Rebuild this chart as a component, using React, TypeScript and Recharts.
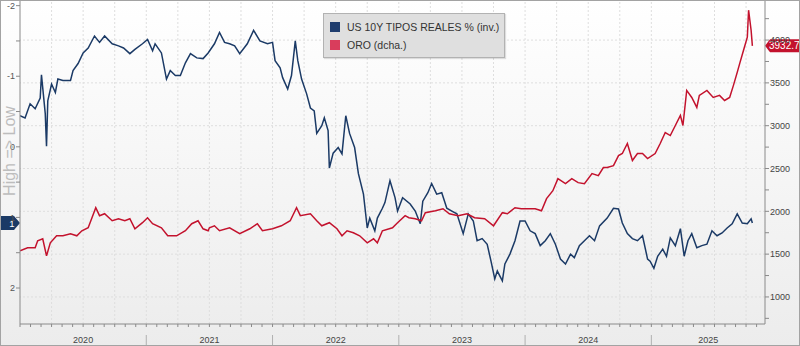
import React from 'react'
import { LineChart, Line, XAxis, YAxis, ReferenceLine, Legend } from 'recharts'

// US 10Y real yield (left axis, inverted) — dates as decimal years
const realYieldDates = [
  2020.0, 2020.04, 2020.08, 2020.12, 2020.16, 2020.17, 2020.2, 2020.21, 2020.22, 2020.25,
  2020.28, 2020.3, 2020.34, 2020.4, 2020.42, 2020.46, 2020.5, 2020.54, 2020.59, 2020.63,
  2020.67, 2020.73, 2020.78, 2020.82, 2020.87, 2020.91, 2020.97, 2021.01, 2021.05, 2021.07,
  2021.12, 2021.16, 2021.19, 2021.23, 2021.27, 2021.31, 2021.35, 2021.4, 2021.45, 2021.49,
  2021.54, 2021.58, 2021.62, 2021.66, 2021.7, 2021.74, 2021.8, 2021.85, 2021.9, 2021.96,
  2022.0, 2022.02, 2022.06, 2022.08, 2022.12, 2022.15, 2022.18, 2022.2, 2022.23, 2022.27,
  2022.3, 2022.33, 2022.35, 2022.39, 2022.41, 2022.44, 2022.45, 2022.48, 2022.52, 2022.55,
  2022.58, 2022.61, 2022.65, 2022.68, 2022.72, 2022.75, 2022.77, 2022.81, 2022.83, 2022.87,
  2022.89, 2022.93, 2022.97, 2022.99, 2023.03, 2023.09, 2023.13, 2023.17, 2023.19, 2023.23,
  2023.26, 2023.3, 2023.34, 2023.38, 2023.42, 2023.46, 2023.51, 2023.55, 2023.59, 2023.62,
  2023.66, 2023.7, 2023.73, 2023.76, 2023.78, 2023.82, 2023.84, 2023.88, 2023.92, 2023.96,
  2024.0, 2024.04, 2024.08, 2024.12, 2024.16, 2024.2, 2024.24, 2024.28, 2024.32, 2024.36,
  2024.39, 2024.43, 2024.47, 2024.51, 2024.55, 2024.59, 2024.65, 2024.7, 2024.74, 2024.77,
  2024.81, 2024.85, 2024.89, 2024.93, 2024.97, 2024.99, 2025.02, 2025.05, 2025.09, 2025.12,
  2025.15, 2025.19, 2025.23, 2025.26, 2025.29, 2025.32, 2025.36, 2025.4, 2025.44, 2025.48,
  2025.52, 2025.56, 2025.6, 2025.64, 2025.68, 2025.72, 2025.76, 2025.79, 2025.8,
]
const realYieldValues = [
  -0.44, -0.41, -0.61, -0.54, -0.69, -1.02, -0.47, -0.01, -0.65, -0.89,
  -0.77, -0.96, -0.94, -0.94, -1.08, -1.18, -1.33, -1.4, -1.57, -1.48,
  -1.57, -1.46, -1.43, -1.4, -1.32, -1.38, -1.46, -1.52, -1.36, -1.46,
  -1.33, -0.96, -1.08, -1.01, -1.01, -1.19, -1.32, -1.26, -1.25, -1.33,
  -1.46, -1.62, -1.48, -1.46, -1.43, -1.32, -1.46, -1.65, -1.5, -1.46,
  -1.48, -1.22, -1.12, -0.98, -0.82, -1.01, -1.5, -1.22, -0.96, -0.75,
  -0.55, -0.51, -0.19, -0.3, -0.41, -0.23, 0.3, 0.09, 0.01, 0.1,
  -0.44, -0.19, 0.01, 0.38, 0.67, 1.15, 1.01, 1.19, 1.01, 0.87,
  0.79, 0.48, 0.72, 0.91, 0.72, 0.81, 0.91, 1.09, 0.77, 0.65,
  0.52, 0.67, 0.65, 0.87, 0.91, 0.95, 1.23, 0.95, 1.05, 1.33,
  1.3, 1.38, 1.62, 1.87, 1.76, 1.9, 1.66, 1.52, 1.33, 1.05,
  1.05, 1.19, 1.23, 1.4, 1.33, 1.23, 1.38, 1.59, 1.66, 1.52,
  1.57, 1.4, 1.33, 1.26, 1.33, 1.12, 1.01, 0.87, 0.88, 1.08,
  1.23, 1.3, 1.33, 1.26, 1.59, 1.62, 1.72, 1.55, 1.45, 1.55,
  1.29, 1.4, 1.16, 1.55, 1.33, 1.23, 1.43, 1.4, 1.38, 1.19,
  1.26, 1.22, 1.15, 1.09, 0.95, 1.08, 1.09, 1.02, 1.08,
]

// Gold (right axis)
const goldDates = [
  2020.0, 2020.06, 2020.12, 2020.14, 2020.18, 2020.21, 2020.24, 2020.29, 2020.34, 2020.4,
  2020.45, 2020.49, 2020.54, 2020.57, 2020.6, 2020.63, 2020.67, 2020.73, 2020.78, 2020.83,
  2020.87, 2020.91, 2020.97, 2021.01, 2021.05, 2021.12, 2021.17, 2021.24, 2021.31, 2021.36,
  2021.41, 2021.45, 2021.49, 2021.5, 2021.54, 2021.58, 2021.66, 2021.74, 2021.82, 2021.88,
  2021.92, 2022.0, 2022.07, 2022.14, 2022.19, 2022.22, 2022.3, 2022.35, 2022.39, 2022.45,
  2022.51, 2022.55, 2022.59, 2022.64, 2022.69, 2022.75, 2022.8, 2022.83, 2022.87, 2022.95,
  2022.99, 2023.05, 2023.08, 2023.13, 2023.18, 2023.21, 2023.29, 2023.35, 2023.4, 2023.47,
  2023.54, 2023.6, 2023.68, 2023.75, 2023.82, 2023.86, 2023.92, 2023.97, 2024.02, 2024.08,
  2024.13, 2024.17, 2024.22, 2024.26, 2024.32, 2024.37, 2024.42, 2024.47, 2024.53, 2024.58,
  2024.62, 2024.65, 2024.7, 2024.74, 2024.77, 2024.81, 2024.85, 2024.89, 2024.93, 2024.97,
  2025.03, 2025.07, 2025.11, 2025.15, 2025.19, 2025.23, 2025.25, 2025.28, 2025.32, 2025.36,
  2025.38, 2025.44, 2025.49, 2025.54, 2025.58, 2025.62, 2025.65, 2025.68, 2025.7, 2025.73,
  2025.76, 2025.77, 2025.79, 2025.8,
]
const goldValues = [
  1539, 1574, 1574, 1656, 1679, 1480, 1632, 1714, 1714, 1738,
  1714, 1773, 1808, 1925, 2042, 1949, 1972, 1890, 1913, 1890,
  1913, 1796, 1867, 1925, 1855, 1808, 1714, 1714, 1773, 1855,
  1890, 1796, 1773, 1808, 1831, 1773, 1808, 1738, 1796, 1855,
  1773, 1796, 1831, 1890, 2042, 1949, 1972, 1890, 1831, 1867,
  1796, 1714, 1773, 1749, 1714, 1632, 1679, 1632, 1773, 1808,
  1867, 1949, 1925, 1913, 1890, 1984, 2007, 2030, 1972, 1949,
  1972, 1925, 1913, 1831, 1984, 1972, 2042, 2030, 2030, 2030,
  2007, 2148, 2241, 2382, 2323, 2382, 2335, 2323, 2440, 2417,
  2511, 2511, 2534, 2651, 2675, 2792, 2593, 2675, 2675, 2616,
  2675, 2792, 2920, 2885, 3002, 3120, 3002, 3412, 3330, 3213,
  3354, 3412, 3330, 3354, 3295, 3330, 3471, 3623, 3728, 3881,
  4033, 4349, 4115, 3932.72,
]

const leftTicks = [-2, -1.5, -1, -0.5, 0, 0.5, 1, 1.5, 2]
const rightTicks = [750, 1000, 1250, 1500, 1750, 2000, 2250, 2500, 2750, 3000, 3250, 3500, 3750, 4000, 4250]
const rightGrid = [1000, 1500, 2000, 2500, 3000, 3500, 4000]
const yearLabels = ['2020', '2021', '2022', '2023', '2024', '2025']
const yearLabelPos = [2020.5, 2021.5, 2022.5, 2023.5, 2024.5, 2025.45]

const BLUE = '#1b3a66'
const RED = '#c3122d'
const X_DOMAIN = [2020, 2025.9]

const realYieldData = realYieldDates.map((t, i) => ({ t, rate: realYieldValues[i] }))
const goldData = goldDates.map((t, i) => ({ t, gold: goldValues[i] }))

const monthTicks: number[] = []
for (let i = 0; 2020 + i / 12 <= X_DOMAIN[1]; i++) {
  const v = 2020 + i / 12
  if (!yearLabelPos.some((p) => Math.abs(p - v) < 1e-6)) monthTicks.push(v)
}
const xTicks = [...monthTicks, ...yearLabelPos].sort((a, b) => a - b)

const quarterLines: number[] = []
for (let v = 2020.25; v < X_DOMAIN[1]; v += 0.25) quarterLines.push(v)

const lastRate = realYieldValues[realYieldValues.length - 1]
const lastGold = goldValues[goldValues.length - 1]

function XTick(props: any) {
  const { x, y, payload } = props
  const v = payload.value
  const labelIdx = yearLabelPos.findIndex((p) => Math.abs(p - v) < 1e-6)
  const m = (v - 2020) * 12
  const onMonth = Math.abs(m - Math.round(m)) < 1e-6
  const yearStart = onMonth && Math.round(m) % 12 === 0 && v > 2020.01
  return (
    <g>
      {onMonth && <line x1={x} x2={x} y1={y} y2={y + 3} stroke="#8a8a8a" />}
      {yearStart && <line x1={x} x2={x} y1={y + 11} y2={y + 22} stroke="#b0b0b0" />}
      {labelIdx >= 0 && (
        <text x={x} y={y + 19} textAnchor="middle" fontSize={9} fill="#444">
          {yearLabels[labelIdx]}
        </text>
      )}
    </g>
  )
}

function RightFlag({ viewBox }: any) {
  const x = viewBox.x + viewBox.width
  const y = viewBox.y
  return (
    <g>
      <path d={`M${x} ${y} L${x + 5} ${y - 6.5} H${x + 40} V${y + 6.5} H${x + 5} Z`} fill={RED} />
      <text x={x + 4} y={y + 3.5} fontSize={10} fill="#fff">
        {lastGold.toFixed(2)}
      </text>
    </g>
  )
}

function LeftFlag({ viewBox }: any) {
  const x = viewBox.x
  const y = viewBox.y
  return (
    <g>
      <path d={`M0 ${y - 7} H${x - 6} L${x} ${y} L${x - 6} ${y + 7} H0 Z`} fill={BLUE} />
      <text x={12} y={y + 3.5} fontSize={9.5} fill="#fff" textAnchor="middle">
        {Math.trunc(lastRate)}
      </text>
    </g>
  )
}

function LegendBox() {
  const items = [
    { name: 'US 10Y TIPOS REALES % (inv.)', color: '#1f3d6e' },
    { name: 'ORO (dcha.)', color: '#d93d5c' },
  ]
  return (
    <div style={styles.legend}>
      {items.map((it) => (
        <div key={it.name} style={styles.legendRow}>
          <span style={{ ...styles.legendSwatch, background: it.color }} />
          <span>{it.name}</span>
        </div>
      ))}
    </div>
  )
}

export default function App() {
  return (
    <div style={styles.container}>
      <LineChart width={800} height={346} margin={{ top: 0, right: 0, bottom: 0, left: 0 }}>
        <XAxis
          type="number"
          dataKey="t"
          domain={X_DOMAIN}
          allowDataOverflow
          ticks={xTicks}
          interval={0}
          tick={<XTick />}
          tickLine={false}
          tickSize={0}
          tickMargin={0}
          height={22}
          axisLine={{ stroke: '#8a8a8a' }}
        />
        <YAxis
          yAxisId="left"
          orientation="left"
          width={20}
          reversed
          type="number"
          domain={[-2.08, 2.51]}
          allowDataOverflow
          ticks={leftTicks}
          interval={0}
          tickSize={4}
          tickMargin={1}
          tickFormatter={(v: number) => (Number.isInteger(v) ? String(v) : '')}
          tick={{ fontSize: 9, fill: '#555' }}
          axisLine={{ stroke: '#8a8a8a' }}
          tickLine={{ stroke: '#8a8a8a' }}
        />
        <YAxis
          yAxisId="right"
          orientation="right"
          width={35}
          type="number"
          domain={[684, 4468]}
          allowDataOverflow
          ticks={rightTicks}
          interval={0}
          tickSize={4}
          tickMargin={1}
          tickFormatter={(v: number) => (v % 500 === 0 ? String(v) : '')}
          tick={{ fontSize: 9, fill: '#444' }}
          axisLine={{ stroke: '#8a8a8a' }}
          tickLine={{ stroke: '#8a8a8a' }}
        />

        {quarterLines.map((v) => (
          <ReferenceLine key={'q' + v} x={v} yAxisId="left" stroke="#dedede" strokeDasharray="2 2" />
        ))}
        {rightGrid.map((v) => (
          <ReferenceLine key={'g' + v} y={v} yAxisId="right" stroke="#dedede" strokeDasharray="2 2" />
        ))}

        <Line
          yAxisId="left"
          data={realYieldData}
          dataKey="rate"
          type="linear"
          stroke={BLUE}
          strokeWidth={1.5}
          dot={false}
          isAnimationActive={false}
        />
        <Line
          yAxisId="right"
          data={goldData}
          dataKey="gold"
          type="linear"
          stroke={RED}
          strokeWidth={1.5}
          dot={false}
          isAnimationActive={false}
        />

        <ReferenceLine
          y={lastGold}
          yAxisId="right"
          stroke="none"
          strokeOpacity={0}
          label={(p: any) => <RightFlag viewBox={p.viewBox} />}
        />
        <ReferenceLine
          y={lastRate}
          yAxisId="left"
          stroke="none"
          strokeOpacity={0}
          label={(p: any) => <LeftFlag viewBox={p.viewBox} />}
        />

        <Legend
          layout="horizontal"
          verticalAlign="middle"
          align="center"
          content={() => <LegendBox />}
          wrapperStyle={{ position: 'absolute', left: 323, top: 13, width: 182, height: 45 }}
        />
      </LineChart>
      <div style={styles.sideLabel}>High =&gt; Low</div>
      <div style={styles.frame} />
    </div>
  )
}

const styles: Record<string, React.CSSProperties> = {
  container: {
    position: 'absolute',
    left: 0,
    top: 0,
    width: 800,
    height: 346,
    background: 'linear-gradient(#ffffff, #ececec)',
    fontFamily: '"Liberation Sans", Arial, sans-serif',
    overflow: 'hidden',
  },
  frame: {
    position: 'absolute',
    left: 0,
    top: 0,
    width: 800,
    height: 346,
    boxSizing: 'border-box',
    border: '1px solid #a3a3a3',
    pointerEvents: 'none',
  },
  sideLabel: {
    position: 'absolute',
    left: 10,
    top: 151,
    transform: 'translate(-50%, -50%) rotate(-90deg)',
    fontSize: 16,
    color: '#bdbdbd',
    whiteSpace: 'nowrap',
    pointerEvents: 'none',
  },
  legend: {
    boxSizing: 'border-box',
    width: 182,
    height: 45,
    background: '#dfdfdf',
    border: '1px solid #b2b2b2',
    boxShadow: '1px 1px 1px rgba(0,0,0,0.12)',
    padding: '4px 0 0 6px',
  },
  legendRow: {
    display: 'flex',
    alignItems: 'center',
    height: 18,
    fontSize: 10.5,
    color: '#333',
    whiteSpace: 'nowrap',
  },
  legendSwatch: {
    display: 'inline-block',
    width: 10,
    height: 10,
    marginRight: 7,
  },
}
